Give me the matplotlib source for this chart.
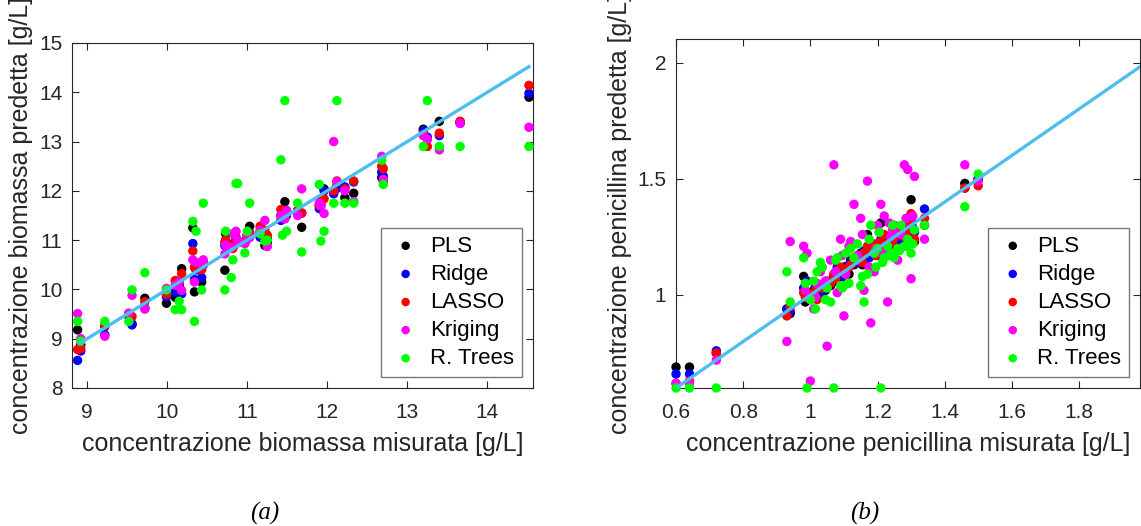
import matplotlib
matplotlib.use('Agg')
import matplotlib.pyplot as plt
from matplotlib.ticker import FormatStrFormatter

plt.rcParams['font.family'] = ['Liberation Sans', 'DejaVu Sans']

# ====================== DATI (a) biomassa ======================
bio_mis = [8.88, 8.92, 9.22, 9.52, 9.56, 9.72, 9.99, 10.10, 10.15, 10.18,
           10.32, 10.34, 10.36, 10.43, 10.45, 10.72, 10.73, 10.80, 10.82, 10.86,
           10.88, 10.97, 11.00, 11.03, 11.16, 11.22, 11.25, 11.42, 11.44, 11.47,
           11.49, 11.63, 11.68, 11.90, 11.92, 11.96, 12.08, 12.12, 12.22, 12.33,
           12.68, 12.70, 13.20, 13.25, 13.40, 13.66, 14.52]
bio_pls = [9.18, 8.88, 9.25, 9.50, 9.30, 9.82, 9.72, 9.84, 10.10, 10.42,
           11.25, 9.95, 10.40, 10.15, 10.50, 10.39, 11.13, 10.90, 10.86, 11.05,
           10.95, 10.95, 11.10, 11.28, 11.15, 10.89, 10.95, 11.50, 11.45, 11.78,
           11.60, 11.60, 11.26, 11.70, 11.80, 12.04, 12.00, 12.10, 11.86, 11.95,
           12.27, 12.20, 13.25, 13.05, 13.41, 13.40, 13.90]
bio_ridge = [8.56, 8.75, 9.08, 9.45, 9.28, 9.62, 9.85, 9.95, 10.05, 9.91,
             10.93, 10.20, 10.40, 10.24, 10.50, 10.89, 11.00, 10.90, 10.85, 11.00,
             10.95, 10.95, 11.05, 11.15, 11.06, 11.00, 11.05, 11.40, 11.45, 11.55,
             11.50, 11.55, 11.55, 11.64, 11.70, 12.00, 11.94, 12.05, 12.08, 12.18,
             12.38, 12.30, 13.22, 13.09, 13.12, 13.37, 13.98]
bio_lasso = [8.78, 8.80, 9.27, 9.50, 9.45, 9.75, 9.90, 10.18, 10.15, 10.32,
             10.78, 10.45, 10.50, 10.40, 10.55, 10.96, 11.00, 10.90, 10.83, 11.03,
             10.95, 10.98, 11.10, 11.13, 11.28, 11.20, 11.10, 11.62, 11.50, 11.60,
             11.55, 11.60, 11.55, 11.70, 11.75, 11.84, 12.00, 12.20, 12.04, 12.20,
             12.50, 12.45, 13.15, 12.90, 13.17, 13.41, 14.14]
bio_krig = [9.51, 9.00, 9.05, 9.52, 9.88, 9.60, 10.02, 10.08, 10.15, 9.98,
            10.60, 10.15, 10.55, 10.52, 10.60, 10.72, 10.90, 10.85, 11.13, 11.18,
            11.00, 10.93, 11.10, 11.05, 11.20, 11.40, 10.87, 11.50, 11.45, 11.43,
            11.60, 11.50, 12.04, 11.75, 11.70, 11.54, 13.00, 12.18, 12.00, 11.78,
            12.70, 12.23, 13.12, 13.05, 12.83, 13.37, 13.29]
bio_rt = [9.35, 8.95, 9.35, 9.35, 9.99, 10.34, 9.99, 9.59, 9.76, 9.59,
          11.38, 9.35, 11.18, 9.99, 11.75, 9.99, 11.18, 10.24, 10.60, 12.15,
          12.15, 10.74, 11.18, 11.75, 11.13, 10.98, 11.00, 12.63, 11.10, 13.83,
          11.18, 11.75, 10.76, 12.13, 10.98, 11.18, 11.75, 13.83, 11.75, 11.75,
          12.62, 12.13, 12.90, 13.83, 12.90, 12.90, 12.90]
bio_linea = [8.90, 14.52]

# ====================== DATI (b) penicillina ======================
pen_mis = [0.60, 0.64, 0.72, 0.93, 0.94, 0.98, 0.985, 0.99, 1.00, 1.01,
           1.015, 1.02, 1.03, 1.035, 1.045, 1.05, 1.06, 1.07, 1.075, 1.08,
           1.09, 1.095, 1.10, 1.105, 1.115, 1.12, 1.13, 1.14, 1.15, 1.155,
           1.16, 1.17, 1.175, 1.18, 1.19, 1.195, 1.20, 1.205, 1.21, 1.215,
           1.22, 1.23, 1.235, 1.24, 1.245, 1.25, 1.26, 1.265, 1.27, 1.28,
           1.285, 1.29, 1.295, 1.30, 1.305, 1.31, 1.34, 1.46, 1.50]
pen_pls = [0.69, 0.69, 0.75, 0.94, 0.92, 1.08, 0.97, 1.00, 0.98, 1.02,
           1.00, 1.01, 1.00, 1.03, 1.02, 1.05, 1.04, 1.08, 1.06, 1.10,
           1.07, 1.10, 1.12, 1.12, 1.09, 1.15, 1.13, 1.16, 1.18, 1.13,
           1.14, 1.26, 1.18, 1.17, 1.20, 1.21, 1.18, 1.17, 1.31, 1.19,
           1.22, 1.20, 1.24, 1.21, 1.20, 1.25, 1.24, 1.25, 1.27, 1.22,
           1.28, 1.30, 1.24, 1.41, 1.25, 1.23, 1.30, 1.48, 1.50]
pen_ridge = [0.66, 0.66, 0.76, 0.94, 0.93, 1.03, 1.00, 1.06, 1.00, 0.99,
             1.04, 1.03, 1.02, 1.01, 1.05, 1.04, 1.06, 1.07, 1.09, 1.12,
             1.10, 1.08, 1.09, 1.11, 1.13, 1.14, 1.15, 1.14, 1.16, 1.17,
             1.19, 1.17, 1.16, 1.20, 1.21, 1.18, 1.19, 1.22, 1.24, 1.20,
             1.23, 1.25, 1.21, 1.22, 1.25, 1.26, 1.25, 1.24, 1.28, 1.24,
             1.27, 1.28, 1.30, 1.32, 1.29, 1.27, 1.37, 1.46, 1.50]
pen_lasso = [0.62, 0.63, 0.75, 0.91, 0.95, 1.01, 0.99, 0.99, 1.00, 1.01,
             1.02, 0.98, 1.04, 1.03, 1.04, 1.06, 1.05, 1.09, 1.07, 1.10,
             1.12, 1.11, 1.10, 1.09, 1.12, 1.13, 1.16, 1.15, 1.17, 1.14,
             1.18, 1.21, 1.19, 1.19, 1.22, 1.17, 1.20, 1.21, 1.23, 1.22,
             1.26, 1.22, 1.22, 1.24, 1.23, 1.25, 1.27, 1.28, 1.26, 1.25,
             1.26, 1.33, 1.31, 1.35, 1.28, 1.24, 1.33, 1.46, 1.47]
pen_krig = [0.62, 0.62, 0.72, 0.80, 1.23, 1.21, 1.02, 1.18, 0.63, 0.94,
            0.99, 1.05, 1.10, 1.12, 1.06, 0.78, 1.15, 1.56, 1.10, 1.01,
            1.24, 1.17, 0.91, 1.09, 1.21, 1.23, 1.39, 1.17, 1.33, 1.26,
            1.02, 1.49, 1.12, 0.88, 1.10, 1.20, 1.30, 1.27, 1.39, 1.18,
            1.34, 0.97, 1.31, 1.25, 1.28, 1.30, 1.15, 1.20, 1.26, 1.56,
            1.33, 1.54, 1.22, 1.07, 1.34, 1.51, 1.24, 1.56, 1.49]
pen_rt = [0.60, 0.60, 0.60, 1.10, 0.97, 1.16, 1.05, 0.60, 0.98, 1.06,
          0.94, 1.10, 1.14, 1.12, 0.98, 1.03, 0.97, 0.60, 1.15, 1.16,
          1.04, 1.03, 1.04, 1.18, 1.05, 1.20, 1.16, 1.22, 1.04, 1.08,
          0.97, 1.09, 1.24, 1.30, 1.18, 1.12, 1.20, 1.27, 0.60, 1.14,
          1.16, 1.21, 1.17, 1.18, 1.30, 1.16, 1.20, 1.19, 1.30, 1.21,
          1.21, 1.24, 1.22, 1.18, 1.22, 1.28, 1.30, 1.38, 1.52]
pen_linea = [0.60, 2.00]

nomi = ['PLS', 'Ridge', 'LASSO', 'Kriging', 'R. Trees']
colori = ['#000000', '#0000FF', '#FF0000', '#FF00FF', '#00FF00']
grigio = '#262626'
azzurro = '#4DBEEE'

# ====================== PLOT ======================
fig = plt.figure(figsize=(11.41, 5.26), dpi=100)
ax1 = fig.add_axes([0.0631, 0.2624, 0.4040, 0.6559])
ax2 = fig.add_axes([0.5925, 0.2624, 0.4067, 0.6629])


def pannello(ax, x, serie, linea):
    for y, nome, c in zip(serie, nomi, colori):
        ax.scatter(x, y, s=46, color=c, edgecolors='none', label=nome,
                   zorder=3, clip_on=False)
    ax.plot(linea, linea, color=azzurro, linewidth=2.4, zorder=4)
    ax.tick_params(direction='in', length=5, width=0.8, top=True, right=True,
                   labelsize=15, colors=grigio, pad=7)
    ax.tick_params(axis='x', pad=11)
    for sp in ax.spines.values():
        sp.set_color(grigio)
        sp.set_linewidth(0.8)
    leg = ax.legend(loc='lower right', fontsize=16, frameon=True, fancybox=False,
                    scatterpoints=1, markerscale=0.9, handlelength=1.5,
                    handletextpad=0.35, labelspacing=0.32, borderpad=0.35,
                    borderaxespad=0.5)
    leg.get_frame().set_edgecolor('#555555')
    leg.get_frame().set_linewidth(1.0)
    leg.set_zorder(5)


pannello(ax1, bio_mis, [bio_pls, bio_ridge, bio_lasso, bio_krig, bio_rt], bio_linea)
ax1.set_xlim(8.81, 14.57)
ax1.set_ylim(8, 15)
ax1.set_xticks(range(9, 15))
ax1.set_yticks(range(8, 16))
ax1.set_xlabel('concentrazione biomassa misurata [g/L]', fontsize=18, color=grigio, labelpad=7)
ax1.set_ylabel('concentrazione biomassa predetta [g/L]', fontsize=18, color=grigio, labelpad=4)

pannello(ax2, pen_mis, [pen_pls, pen_ridge, pen_lasso, pen_krig, pen_rt], pen_linea)
ax2.set_xlim(0.6, 1.982)
ax2.set_ylim(0.6, 2.1)
ax2.set_xticks([0.6, 0.8, 1.0, 1.2, 1.4, 1.6, 1.8])
ax2.set_yticks([1.0, 1.5, 2.0])
ax2.xaxis.set_major_formatter(FormatStrFormatter('%g'))
ax2.yaxis.set_major_formatter(FormatStrFormatter('%g'))
ax2.set_xlabel('concentrazione penicillina misurata [g/L]', fontsize=18, color=grigio, labelpad=7)
ax2.set_ylabel('concentrazione penicillina predetta [g/L]', fontsize=18, color=grigio, labelpad=4)

# Didascalie
fig.text(265 / 1141, 1 - 513 / 526, '(a)', fontsize=18, style='italic',
         family='Liberation Serif', ha='center', va='center')
fig.text(865 / 1141, 1 - 513 / 526, '(b)', fontsize=18, style='italic',
         family='Liberation Serif', ha='center', va='center')

fig.savefig('out.png', dpi=100)
